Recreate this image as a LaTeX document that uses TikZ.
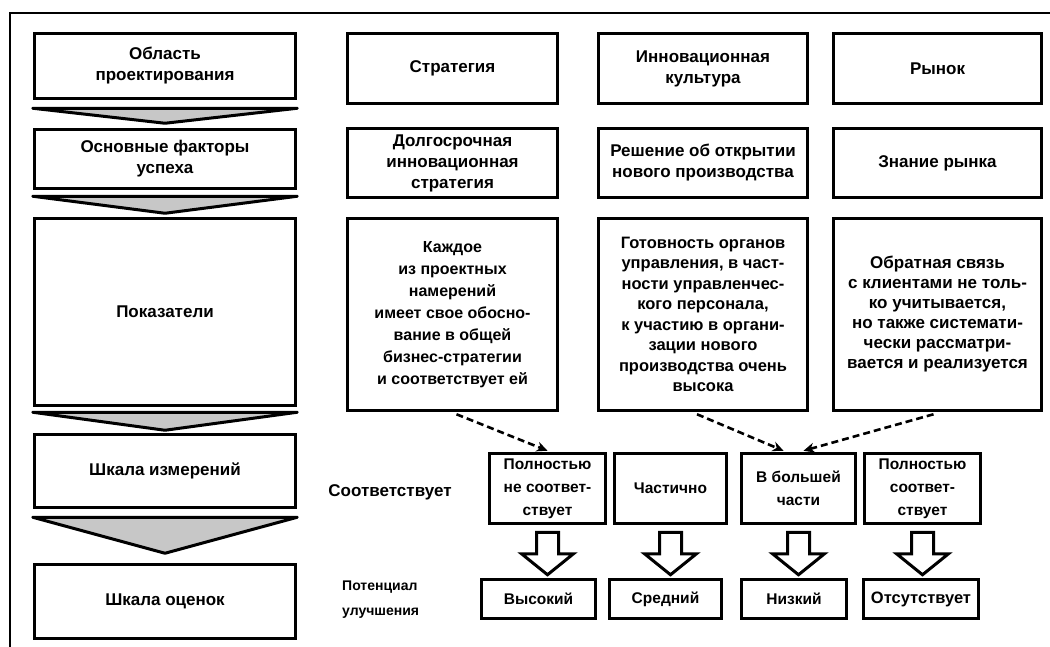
\documentclass[tikz,border=0pt]{standalone}
\usepackage{fontspec}
\setmainfont{Liberation Sans}
\usepackage{tikz}
\usetikzlibrary{calc}
\usetikzlibrary{arrows.meta}
\tikzset{
    box/.style={draw=black, line width=3.5pt, align=center, inner sep=2pt,
        font=\bfseries\fontsize{17}{21}\selectfont},
    smallbox/.style={box, font=\bfseries\fontsize{15.5}{23}\selectfont},
    chevron/.style={draw=black, line width=3pt, fill=black!22, line join=round},
    hollow/.style={draw=black, line width=3pt, fill=white, line join=miter},
    dashlink/.style={draw=black, line width=2.6pt, dash pattern=on 7pt off 4pt,
        -{Stealth[length=11pt,width=10pt]}},
    sidetext/.style={align=left, inner sep=0pt, font=\bfseries\fontsize{17}{21}\selectfont}
}

\begin{document}
\begin{tikzpicture}[x=1pt,y=-1pt]
\useasboundingbox (0,0) rectangle (1050,646);
\draw[line width=2.5pt] (10,660) -- (10,13) -- (1060,13);

\node[box, minimum width=261pt, minimum height=65pt] (area) at (165,66) {Область\\проектирования};
\node[box, minimum width=261pt, minimum height=59pt] (factors) at (165,159) {Основные факторы\\успеха};
\node[box, minimum width=261pt, minimum height=187pt] (indic) at (165,312) {Показатели};
\node[box, minimum width=261pt, minimum height=73pt] (measure) at (165,471) {Шкала измерений};
\node[box, minimum width=261pt, minimum height=74pt] (rating) at (165,601.5) {Шкала оценок};

\draw[style={chevron}] ($(area.south west)+(0,8)$) -- ($(area.south east)+(0,8)$) -- ($(area.south)+(0,23)$) -- cycle;
\draw[style={chevron}] ($(factors.south west)+(0,6)$) -- ($(factors.south east)+(0,6)$) -- ($(factors.south)+(0,23)$) -- cycle;
\draw[style={chevron}] ($(indic.south west)+(0,5)$) -- ($(indic.south east)+(0,5)$) -- ($(indic.south)+(0,23)$) -- cycle;
\draw[style={chevron}] ($(measure.south west)+(0,8)$) -- ($(measure.south east)+(0,8)$) -- ($(measure.south)+(0,44)$) -- cycle;

\node[box, minimum width=210pt, minimum height=70pt] (strat) at (452.5,68.5) {Стратегия};
\node[box, minimum width=209pt, minimum height=70pt] (culture) at (703,68.5) {Инновационная\\культура};
\node[box, minimum width=208pt, minimum height=70pt] (market) at (937.5,68.5) {Рынок};

\node[box, minimum width=210pt, minimum height=69pt] (longterm) at (452.5,163) {Долгосрочная\\инновационная\\стратегия};
\node[box, minimum width=209pt, minimum height=69pt] (decision) at (703,163) {Решение об открытии\\нового производства};
\node[box, minimum width=208pt, minimum height=69pt] (knowledge) at (937.5,163) {Знание рынка};

\node[box, minimum width=210pt, minimum height=192pt, font=\bfseries\fontsize{16}{22}\selectfont] (intent) at (452.5,314.5) {Каждое\\из проектных\\намерений\\имеет свое обосно-\\вание в общей\\бизнес-стратегии\\и соответствует ей};
\node[box, minimum width=209pt, minimum height=192pt, font=\bfseries\fontsize{16.5}{20.5}\selectfont] (ready) at (703,314.5) {Готовность органов\\управления, в част-\\ности управленчес-\\кого персонала,\\к участию в органи-\\зации нового\\производства очень\\высока};
\node[box, minimum width=208pt, minimum height=192pt, font=\bfseries\fontsize{17}{20}\selectfont] (feedback) at (937.5,314.5) {Обратная связь\\с клиентами не толь-\\ко учитывается,\\но также системати-\\чески рассматри-\\вается и реализуется};

\node[sidetext] (agree) at (390,492) {Соответствует};
\node[sidetext, anchor=west, font=\bfseries\fontsize{14}{25}\selectfont] (potential) at (342,600) {Потенциал\\улучшения};

\node[smallbox, minimum width=116pt, minimum height=70pt] (fullno) at (547.5,488.5) {Полностью\\не соответ-\\ствует};
\node[smallbox, minimum width=112pt, minimum height=70pt] (part) at (670.5,488.5) {Частично};
\node[smallbox, minimum width=114pt, minimum height=70pt] (most) at (798.5,488.5) {В большей\\части};
\node[smallbox, minimum width=116pt, minimum height=70pt] (full) at (922.5,488.5) {Полностью\\соответ-\\ствует};

\node[smallbox, minimum width=114pt, minimum height=39pt] (high) at (538.5,599) {Высокий};
\node[smallbox, minimum width=112pt, minimum height=39pt] (mid) at (665.5,599) {Средний};
\node[smallbox, minimum width=105pt, minimum height=39pt] (low) at (794,599) {Низкий};
\node[smallbox, minimum width=115pt, minimum height=39pt, font=\bfseries\fontsize{16.5}{20}\selectfont] (none) at (921,599) {Отсутствует};

\foreach \u/\l in {fullno/high, part/mid, most/low, full/none}
  \draw[style={hollow}] let \p1=(\u.south), \p2=(\l.north) in
    (\x1-11pt,\y1-7pt) -- (\x1+11pt,\y1-7pt) -- (\x1+11pt,\y2+24pt) -- (\x1+26pt,\y2+24pt)
    -- (\x1,\y2+3pt) -- (\x1-26pt,\y2+24pt) -- (\x1-11pt,\y2+24pt) -- cycle;

\draw[style={dashlink}] ($(intent.south)+(4,2)$) -- ($(fullno.north)+(0,-1)$);
\draw[style={dashlink}] ($(ready.south)+(-6,2)$) -- ($(most.north)+(-15,-1)$);
\draw[style={dashlink}] ($(feedback.south)+(-4,2)$) -- ($(most.north)+(5,-1)$);
\end{tikzpicture}
\end{document}
